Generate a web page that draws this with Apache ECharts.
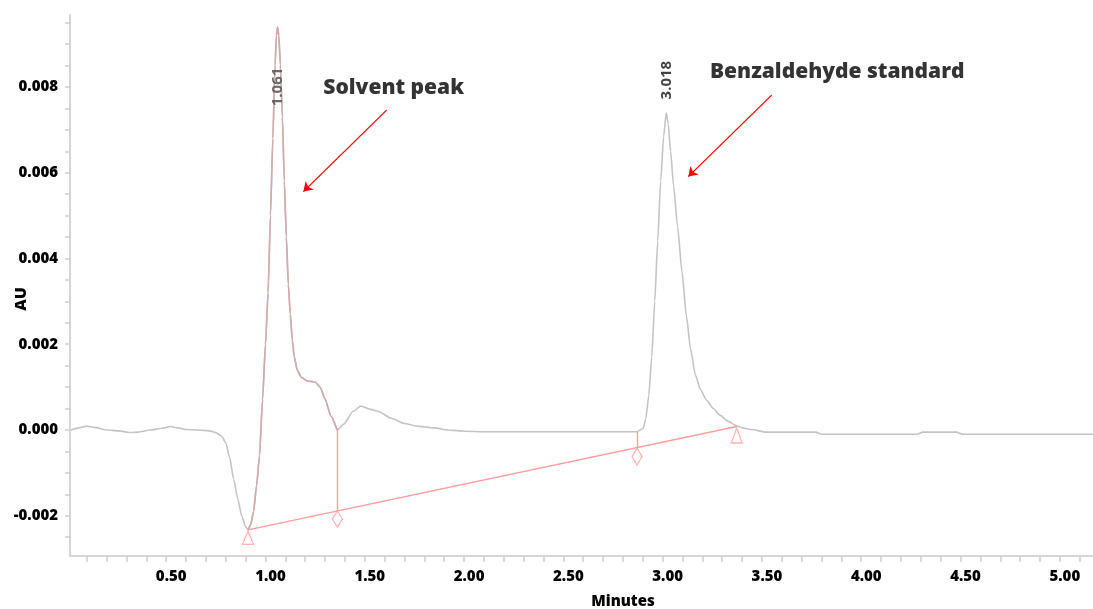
<!DOCTYPE html>
<html>
<head>
<meta charset="utf-8">
<script src="https://cdn.jsdelivr.net/npm/echarts@6/dist/echarts.min.js"></script>
<style>
  html, body { margin: 0; padding: 0; background: #ffffff; }
  #chart { width: 1093px; height: 609px; }
</style>
</head>
<body>
<div id="chart"></div>
<script>
// Chromatogram trace: retention time (min) and detector response (AU)
const timeMin = [
  0.02, 0.06, 0.10, 0.14, 0.20, 0.26, 0.32, 0.36, 0.42, 0.48, 0.52, 0.56, 0.60, 0.66, 0.72,
  0.75, 0.78, 0.80, 0.82, 0.84, 0.86, 0.88, 0.90, 0.912, 0.925, 0.94, 0.955, 0.97, 0.985,
  1.000, 1.013, 1.025, 1.037, 1.048, 1.055, 1.061, 1.067, 1.075, 1.085, 1.095, 1.105, 1.115,
  1.125, 1.135, 1.145, 1.16, 1.18, 1.21, 1.25, 1.275, 1.30, 1.33, 1.362, 1.395, 1.44, 1.48, 1.53,
  1.57, 1.63, 1.70, 1.76, 1.85, 1.92, 2.00, 2.10, 2.40, 2.70, 2.871, 2.90, 2.915, 2.93, 2.945,
  2.96, 2.975, 2.99, 3.005, 3.018, 3.028, 3.04, 3.055, 3.075, 3.097, 3.12, 3.14, 3.165, 3.19,
  3.22, 3.255, 3.29, 3.33, 3.373, 3.40, 3.45, 3.52, 3.77, 3.80, 4.28, 4.31, 4.48, 4.51, 5.17
];
const absorbanceAU = [
  0.00000, 0.00005, 0.00009, 0.00006, 0.00000, -0.00002, -0.00006, -0.00005, 0.00000, 0.00004, 0.00008, 0.00005, 0.00001, 0.00000, -0.00002,
  -0.00006, -0.00015, -0.00030, -0.00065, -0.00115, -0.00160, -0.00200, -0.00226, -0.00233, -0.00222, -0.00190, -0.00130, -0.00060, 0.00070,
  0.00200, 0.00320, 0.00500, 0.00680, 0.00850, 0.00920, 0.00940, 0.00920, 0.00850, 0.00730, 0.00580, 0.00450, 0.00340,
  0.00270, 0.00210, 0.00170, 0.00140, 0.00123, 0.00114, 0.00112, 0.00100, 0.00072, 0.00032, 0.00000, 0.00014, 0.00043, 0.00056, 0.00048,
  0.00043, 0.00028, 0.00015, 0.00009, 0.00005, 0.00000, -0.00003, -0.00004, -0.00004, -0.00004, -0.00004, 0.00003, 0.00025, 0.00080, 0.00170,
  0.00300, 0.00440, 0.00580, 0.00685, 0.00740, 0.00715, 0.00650, 0.00570, 0.00475, 0.00370, 0.00265, 0.00190, 0.00128, 0.00095,
  0.00070, 0.00050, 0.00034, 0.00020, 0.00010, 0.00005, 0.00001, -0.00005, -0.00005, -0.00010, -0.00010, -0.00005, -0.00005, -0.00010, -0.00010
];

// Integrated solvent peak window (min)
const solventStart = 0.912;
const solventEnd = 1.362;

// Integration baseline and drop lines
const baselineTime = [0.912, 3.373];
const baselineAU = [-0.00233, 0.00008];
const dropTime = [1.362, 2.871];
const dropTopAU = [0.00000, -0.00004];
const dropBottomAU = [-0.00189, -0.00041];

// Peak apex retention times
const peakTime = [1.061, 3.018];
const peakLabel = ['1.061', '3.018'];

// Annotations
const noteText = ['Solvent peak', 'Benzaldehyde standard'];

// Axis ticks and labels
const xLabelValues = [0.5, 1.0, 1.5, 2.0, 2.5, 3.0, 3.5, 4.0, 4.5, 5.0];
const xTickValues = [0.1, 0.2, 0.3, 0.4, 0.5, 0.6, 0.7, 0.8, 0.9, 1.0, 1.1, 1.2, 1.3, 1.4, 1.5, 1.6, 1.7, 1.8, 1.9, 2.0,
  2.1, 2.2, 2.3, 2.4, 2.5, 2.6, 2.7, 2.8, 2.9, 3.0, 3.1, 3.2, 3.3, 3.4, 3.5, 3.6, 3.7, 3.8, 3.9, 4.0,
  4.1, 4.2, 4.3, 4.4, 4.5, 4.6, 4.7, 4.8, 4.9, 5.0, 5.1];
const yLabelValues = [-0.002, 0.000, 0.002, 0.004, 0.006, 0.008];
const yTickValues = [-0.0025, -0.002, -0.0015, -0.001, -0.0005, 0, 0.0005, 0.001, 0.0015, 0.002, 0.0025, 0.003,
  0.0035, 0.004, 0.0045, 0.005, 0.0055, 0.006, 0.0065, 0.007, 0.0075, 0.008, 0.0085, 0.009, 0.0095];

const trace = timeMin.map((t, i) => [t, absorbanceAU[i]]);
const solventTrace = trace.filter(p => p[0] >= solventStart && p[0] <= solventEnd);

const FONT = '"Open Sans", "Noto Sans", sans-serif';
const HEAVY = 800;
const PINK = '#ff9e9e';

const markers = [
  { value: [baselineTime[0], baselineAU[0]], symbol: 'triangle', symbolSize: [11, 13], symbolOffset: [0, 8] },
  { value: [dropTime[0], dropBottomAU[0]], symbol: 'diamond', symbolSize: [10, 16], symbolOffset: [0, 8] },
  { value: [dropTime[1], dropBottomAU[1]], symbol: 'diamond', symbolSize: [10, 17], symbolOffset: [0, 9] },
  { value: [baselineTime[1], baselineAU[1]], symbol: 'triangle', symbolSize: [11, 15], symbolOffset: [0, 9] }
];

const chart = echarts.init(document.getElementById('chart'), null, { renderer: 'canvas' });

chart.setOption({
  animation: false,
  backgroundColor: '#ffffff',
  grid: { left: 70, right: 0, top: 15, bottom: 53, containLabel: false, outerBoundsMode: 'none' },
  xAxis: {
    type: 'value',
    min: 0.0156,
    max: 5.167,
    axisLine: { show: true, onZero: false, lineStyle: { color: '#d6d6d6', width: 2 } },
    axisTick: { show: true, customValues: xTickValues, length: 6, lineStyle: { color: '#cfcfcf', width: 1.5 } },
    axisLabel: {
      customValues: xLabelValues,
      formatter: v => v.toFixed(2),
      fontFamily: FONT, fontWeight: HEAVY, fontSize: 15, color: '#000',
      margin: 13, padding: [0, 0, 0, 10]
    },
    splitLine: { show: false }
  },
  yAxis: {
    type: 'value',
    min: -0.002939,
    max: 0.009679,
    axisLine: { show: true, lineStyle: { color: '#d6d6d6', width: 2 } },
    axisTick: { show: true, customValues: yTickValues, length: 5, lineStyle: { color: '#cfcfcf', width: 1.5 } },
    axisLabel: {
      customValues: yLabelValues,
      formatter: v => v.toFixed(3),
      fontFamily: FONT, fontWeight: HEAVY, fontSize: 15, color: '#000',
      margin: 12
    },
    splitLine: { show: false }
  },
  graphic: [
    { type: 'text', x: 21, y: 299, rotation: Math.PI / 2,
      style: { text: 'AU', font: HEAVY + ' 16px ' + FONT, fill: '#000', align: 'center', verticalAlign: 'middle' } },
    { type: 'text', x: 623, y: 602,
      style: { text: 'Minutes', font: HEAVY + ' 15px ' + FONT, fill: '#000', align: 'center', verticalAlign: 'middle' } }
  ],
  series: [
    {
      name: 'Chromatogram',
      type: 'line',
      data: trace,
      showSymbol: false,
      smooth: 0.2,
      smoothMonotone: 'x',
      lineStyle: { color: '#c4c4c4', width: 1.6 },
      z: 2,
      silent: true
    },
    {
      name: 'Solvent peak',
      type: 'line',
      data: solventTrace,
      showSymbol: false,
      smooth: 0.2,
      smoothMonotone: 'x',
      lineStyle: { color: '#d2abab', width: 1.6 },
      z: 3,
      silent: true
    },
    {
      name: 'Baseline',
      type: 'line',
      data: baselineTime.map((t, i) => [t, baselineAU[i]]),
      showSymbol: false,
      lineStyle: { color: PINK, width: 1.4 },
      z: 4,
      silent: true,
      markLine: {
        silent: true,
        symbol: ['none', 'none'],
        label: { show: false },
        lineStyle: { color: PINK, width: 1.4, type: 'solid' },
        data: dropTime.map((t, i) => [
          { coord: [t, dropTopAU[i]] },
          { coord: [t, dropBottomAU[i]] }
        ])
      }
    },
    {
      name: 'Integration marks',
      type: 'scatter',
      data: markers,
      itemStyle: { color: '#ffffff', borderColor: PINK, borderWidth: 1.3 },
      z: 5,
      silent: true
    },
    {
      name: 'Retention times',
      type: 'scatter',
      data: [
        { value: [peakTime[0], 0.0080], label: { color: '#4a4a4a' } },
        { value: [peakTime[1], 0.00816], label: { color: '#111' } }
      ],
      symbolSize: 0,
      z: 6,
      silent: true,
      label: {
        show: true,
        position: 'inside',
        rotate: 90,
        formatter: p => peakLabel[p.dataIndex],
        fontFamily: FONT, fontSize: 15, fontWeight: 'bold'
      }
    },
    {
      name: 'Notes',
      type: 'scatter',
      data: [
        { value: [1.291, 0.00798], name: noteText[0] },
        { value: [3.238, 0.00835], name: noteText[1] }
      ],
      symbolSize: 0,
      z: 7,
      silent: true,
      label: {
        show: true,
        position: 'right',
        distance: 0,
        formatter: p => p.name,
        fontFamily: FONT, fontSize: 21, fontWeight: HEAVY, color: '#000'
      },
      markLine: {
        silent: true,
        symbol: ['none', 'arrow'],
        symbolSize: 9,
        label: { show: false },
        lineStyle: { color: '#ff0000', width: 1.3, type: 'solid' },
        itemStyle: { color: '#ff0000' },
        data: [
          [{ coord: [1.610, 0.00746] }, { coord: [1.191, 0.00556] }],
          [{ coord: [3.549, 0.00781] }, { coord: [3.129, 0.00591] }]
        ]
      }
    }
  ]
});
</script>
</body>
</html>
